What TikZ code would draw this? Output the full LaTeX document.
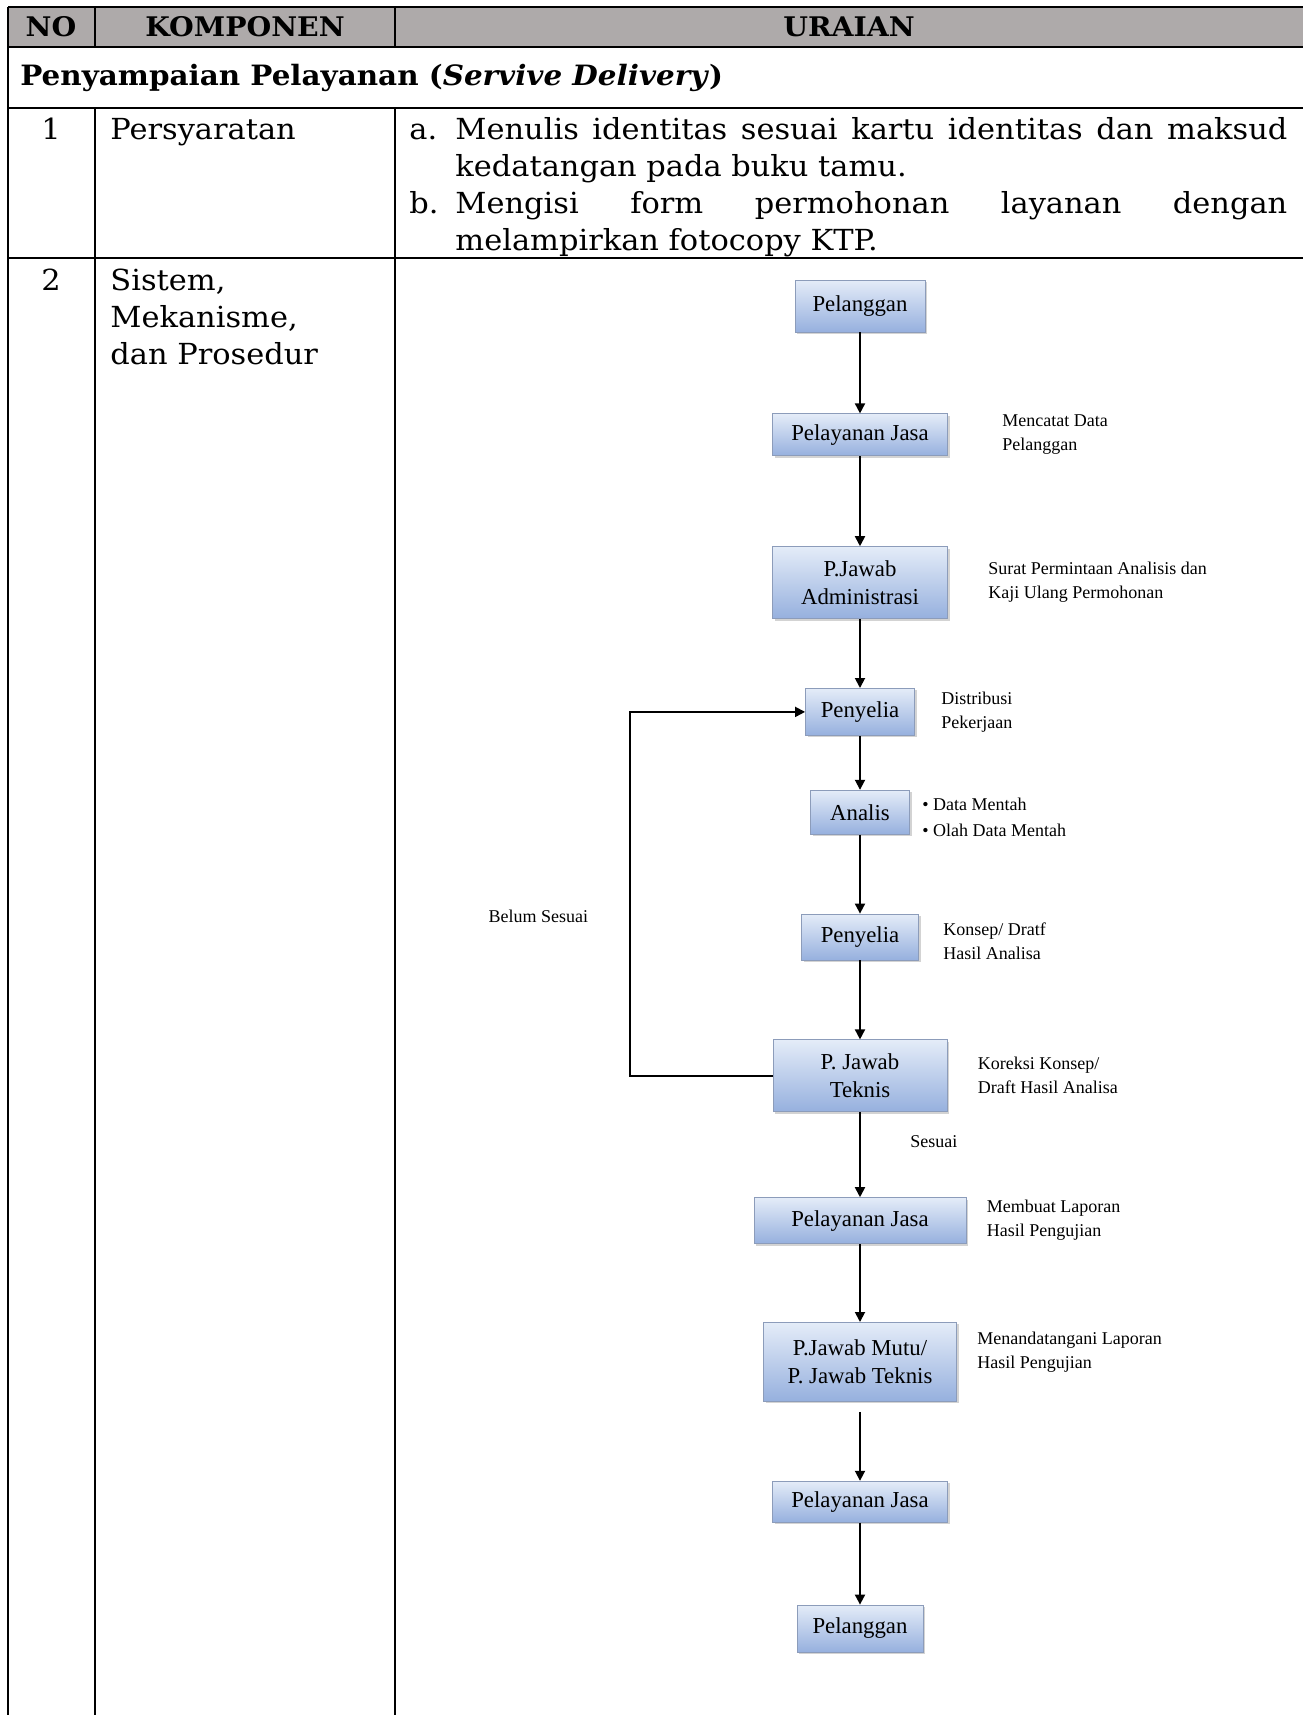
\documentclass[tikz,border=0pt]{standalone}
\usepackage{fontspec}
\setmainfont{DejaVu Serif}[FakeStretch=1.05]
\newfontfamily\chartfont{Liberation Serif}
\usetikzlibrary{arrows.meta,positioning,shadows}

\definecolor{headgray}{HTML}{AEAAAA}
\definecolor{boxtop}{RGB}{228,236,248}
\definecolor{boxbot}{RGB}{150,176,222}
\definecolor{boxline}{RGB}{140,156,186}

\begin{document}
\begin{tikzpicture}[
  x=0.5pt, y=-0.5pt,
  grid/.style={line width=1.25pt},
  head/.style={inner sep=0pt,font=\bfseries\fontsize{13.5}{16}\selectfont},
  cell/.style={inner sep=0pt,align=left,font=\fontsize{14.5}{18.5}\selectfont},
  box/.style={draw=boxline,top color=boxtop,bottom color=boxbot,
    drop shadow={shadow xshift=1pt,shadow yshift=-1pt,opacity=0.35},
    align=center,inner sep=1pt,font=\chartfont\fontsize{11.4}{14}\selectfont},
  note/.style={inner sep=0pt,align=left,font=\chartfont\fontsize{9}{12}\selectfont},
  arrow/.style={-{Triangle[length=5pt,width=5pt]},line width=0.9pt}
]
\useasboundingbox (0,0) rectangle (1303,1715);

% table
\fill[headgray] (8,7) rectangle (1303,47);
\draw[grid] (8,7) -- (1303,7);
\draw[grid] (8,47) -- (1303,47);
\draw[grid] (8,108) -- (1303,108);
\draw[grid] (8,258) -- (1303,258);
\draw[grid] (8,7) -- (8,1715);
\draw[grid] (95,7) -- (95,47) (95,108) -- (95,1715);
\draw[grid] (395,7) -- (395,47) (395,108) -- (395,1715);

\node[head] (hno) at (51,27) {NO};
\node[head] (hkomp) at (245,27) {KOMPONEN};
\node[head] (huraian) at (849,27) {URAIAN};
\node[head,anchor=west,font=\bfseries\fontsize{14}{17}\selectfont] (sect) at (20,78)
  {Penyampaian Pelayanan (\textit{Servive Delivery})};

\node[cell,anchor=north] (no1) at (51,113) {\strut 1};
\node[cell,anchor=north west] (komp1) at (110,113) {\strut Persyaratan};
\node[cell,anchor=north west] (uraian1) at (409,113) {%
  \strut\makebox[23pt][l]{a.}\makebox[416pt][s]{Menulis identitas sesuai kartu identitas dan maksud}\\
  \hspace*{23pt}kedatangan pada buku tamu.\\
  \makebox[23pt][l]{b.}\makebox[416pt][s]{Mengisi form permohonan layanan dengan}\\
  \hspace*{23pt}melampirkan fotocopy KTP.};

\node[cell,anchor=north] (no2) at (51,264) {\strut 2};
\node[cell,anchor=north west] (komp2) at (110,264) {\strut Sistem,\\Mekanisme,\\dan Prosedur};

% flowchart
\node[box,minimum width=65pt,minimum height=26pt] (pel1) at (860,306) {Pelanggan};
\node[box,minimum width=87.5pt,minimum height=21pt,below=40.5pt of pel1] (pj1) {Pelayanan Jasa};
\node[box,minimum width=87.5pt,minimum height=36pt,below=45pt of pj1] (adm) {P.Jawab\\Administrasi};
\node[box,minimum width=54.5pt,minimum height=23.5pt,below=34.5pt of adm] (pny1) {Penyelia};
\node[box,minimum width=49.5pt,minimum height=22pt,below=27pt of pny1] (anl) {Analis};
\node[box,minimum width=58.5pt,minimum height=23pt,below=39.5pt of anl] (pny2) {Penyelia};
\node[box,minimum width=87pt,minimum height=36pt,below=39.5pt of pny2] (tek) {P. Jawab\\Teknis};
\node[box,minimum width=106pt,minimum height=23pt,below=42.5pt of tek] (pj2) {Pelayanan Jasa};
\node[box,minimum width=96.5pt,minimum height=39.5pt,below=39pt of pj2] (mutu) {P.Jawab Mutu/\\P. Jawab Teknis};
\node[box,minimum width=87.5pt,minimum height=20.5pt,below=39.5pt of mutu] (pj3) {Pelayanan Jasa};
\node[box,minimum width=63pt,minimum height=23.5pt,below=41pt of pj3] (pel2) {Pelanggan};

\node[note,right=27pt of pj1] (note-pj1) {Mencatat Data\\Pelanggan};
\node[note,right=20pt of adm] (note-adm) {Surat Permintaan Analisis dan\\Kaji Ulang Permohonan};
\node[note,right=13pt of pny1] (note-pny1) {Distribusi\\Pekerjaan};
\node[note,right=6pt of anl,yshift=-2.5pt,font=\chartfont\fontsize{9}{13}\selectfont] (note-anl)
  {\textbullet\ Data Mentah\\\textbullet\ Olah Data Mentah};
\node[note,right=12pt of pny2,yshift=-2pt] (note-pny2) {Konsep/ Dratf\\Hasil Analisa};
\node[note,right=15pt of tek] (note-tek) {Koreksi Konsep/\\Draft Hasil Analisa};
\node[note,right=10pt of pj2] (note-pj2) {Membuat Laporan\\Hasil Pengujian};
\node[note,right=10pt of mutu,yshift=5pt] (note-mutu) {Menandatangani Laporan\\Hasil Pengujian};

\draw[arrow] (pel1) -- (pj1);
\draw[arrow] (pj1) -- (adm);
\draw[arrow] (adm) -- (pny1);
\draw[arrow] (pny1) -- (anl);
\draw[arrow] (anl) -- (pny2);
\draw[arrow] (pny2) -- (tek);
\draw[arrow] (tek) -- (pj2);
\draw[arrow] (pj2) -- (mutu);
\draw[arrow,shorten <=5pt] (mutu) -- (pj3);
\draw[arrow] (pj3) -- (pel2);

% feedback loop
\coordinate[left=71.5pt of tek.west] (fbx);
\draw[arrow] (tek.west) -- (fbx) |- (pny1.west);
\node[note,above left=76.5pt and 20.5pt of fbx] (belum) {Belum Sesuai};
\node[note,below right=11.5pt and 25pt of tek.south] (sesuai) {Sesuai};
\end{tikzpicture}
\end{document}
